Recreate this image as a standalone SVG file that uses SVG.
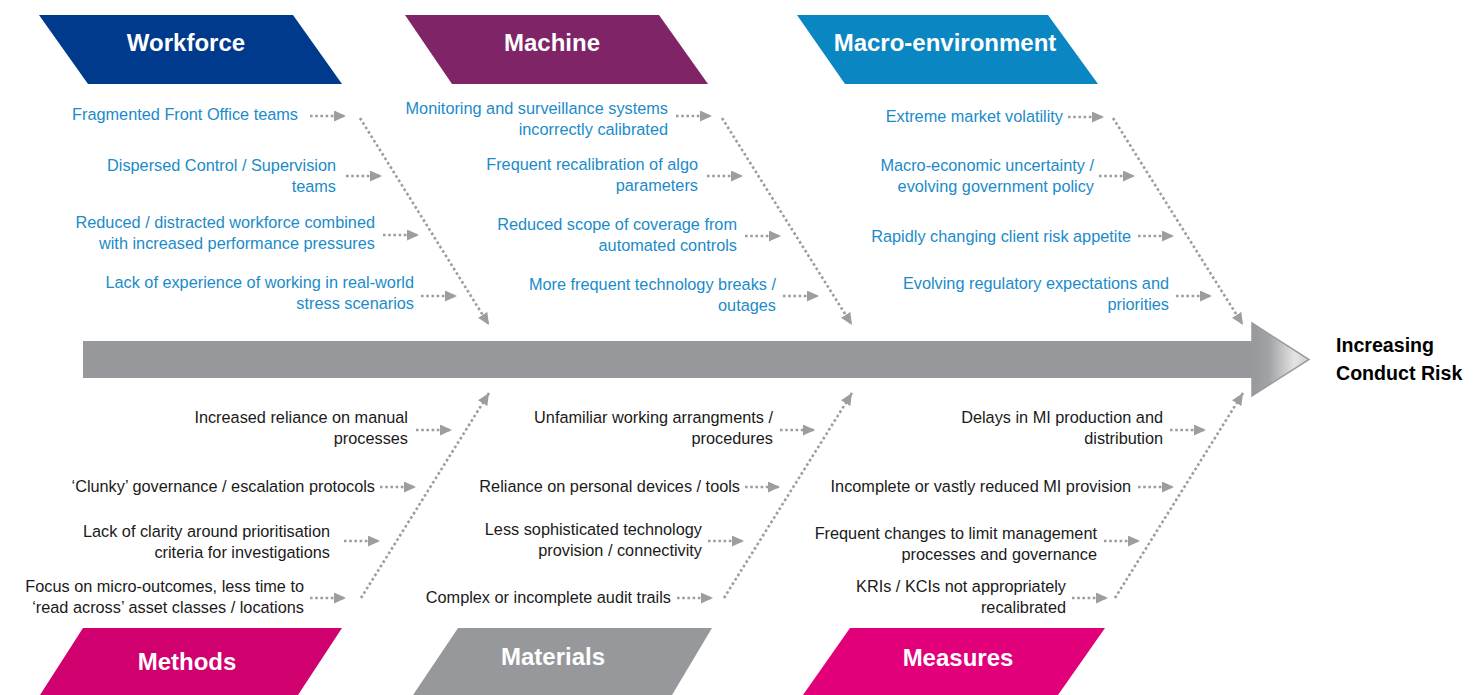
<svg xmlns="http://www.w3.org/2000/svg" width="1478" height="695" viewBox="0 0 1478 695">
<style>
  .hdr { font-family: "Liberation Sans", Arial, sans-serif; font-weight: bold; font-size: 24px; fill: #ffffff; text-anchor: middle; }
  .cb { font-family: "Liberation Sans", Arial, sans-serif; font-size: 16.3px; fill: #1B8BC9; text-anchor: end; }
  .ck { font-family: "Liberation Sans", Arial, sans-serif; font-size: 16.3px; fill: #1a1a1a; text-anchor: end; }
  .res { font-family: "Liberation Sans", Arial, sans-serif; font-weight: bold; font-size: 19.6px; fill: #000000; }
  .dot { stroke: #9d9d9f; stroke-width: 2.6; stroke-dasharray: 2.6 2.6; fill: none; }
</style>
<defs>
  <marker id="ah" markerUnits="userSpaceOnUse" viewBox="0 0 12 11" markerWidth="12" markerHeight="11" refX="12" refY="5.5" orient="auto">
    <path d="M0,0 L12,5.5 L0,11 z" fill="#9d9d9f"/>
  </marker>
  <linearGradient id="headGrad" x1="1252" y1="0" x2="1309" y2="0" gradientUnits="userSpaceOnUse">
    <stop offset="0" stop-color="#97989b"/>
    <stop offset="0.3" stop-color="#a2a3a6"/>
    <stop offset="0.75" stop-color="#e4e4e5"/>
    <stop offset="1" stop-color="#cfcfd1"/>
  </linearGradient>
</defs>

<rect width="1478" height="695" fill="#ffffff"/>

<!-- main spine -->
<g id="spine">
  <rect x="83" y="341" width="1172" height="37" fill="#97989b"/>
  <polygon points="1252,323 1309,359.5 1252,396" fill="url(#headGrad)" stroke="#9a9b9e" stroke-width="1.5"/>
</g>

<g id="result">
  <text class="res" x="1336" y="352">Increasing</text>
  <text class="res" x="1336" y="380">Conduct Risk</text>
</g>

<!-- headers -->
<g id="workforce">
  <polygon points="39,15 293,15 342,84 88,84" fill="#003a8c"/>
  <text class="hdr" x="186" y="51">Workforce</text>
</g>
<g id="machine">
  <polygon points="405,15 659,15 708,84 452,84" fill="#7e2467"/>
  <text class="hdr" x="552" y="51">Machine</text>
</g>
<g id="macro">
  <polygon points="797,15 1048,15 1098,84 845,84" fill="#0a86c2"/>
  <text class="hdr" x="945" y="51">Macro-environment</text>
</g>
<g id="methods">
  <polygon points="83,628 342,628 298,695 40,695" fill="#d0006f"/>
  <text class="hdr" x="187" y="670">Methods</text>
</g>
<g id="materials">
  <polygon points="458,628 712,628 672,695 413,695" fill="#97989b"/>
  <text class="hdr" x="553" y="665">Materials</text>
</g>
<g id="measures">
  <polygon points="850,628 1105,628 1058,695 803,695" fill="#e2007a"/>
  <text class="hdr" x="958" y="666">Measures</text>
</g>

<!-- cause texts -->
<g id="workforce-causes">
  <text class="cb" x="298" y="120">Fragmented Front Office teams</text>
  <text class="cb" x="336" y="171">Dispersed Control / Supervision</text>
  <text class="cb" x="336" y="192">teams</text>
  <text class="cb" x="375" y="228">Reduced / distracted workforce combined</text>
  <text class="cb" x="375" y="249">with increased performance pressures</text>
  <text class="cb" x="414" y="288">Lack of experience of working in real-world</text>
  <text class="cb" x="414" y="309">stress scenarios</text>
</g>
<g id="machine-causes">
  <text class="cb" x="668" y="114">Monitoring and surveillance systems</text>
  <text class="cb" x="668" y="135">incorrectly calibrated</text>
  <text class="cb" x="698" y="170">Frequent recalibration of algo</text>
  <text class="cb" x="698" y="191">parameters</text>
  <text class="cb" x="737" y="230">Reduced scope of coverage from</text>
  <text class="cb" x="737" y="251">automated controls</text>
  <text class="cb" x="776" y="290">More frequent technology breaks /</text>
  <text class="cb" x="776" y="311">outages</text>
</g>
<g id="macro-causes">
  <text class="cb" x="1063" y="122">Extreme market volatility</text>
  <text class="cb" x="1094" y="171">Macro-economic uncertainty /</text>
  <text class="cb" x="1094" y="192">evolving government policy</text>
  <text class="cb" x="1131" y="242">Rapidly changing client risk appetite</text>
  <text class="cb" x="1169" y="289">Evolving regulatory expectations and</text>
  <text class="cb" x="1169" y="310">priorities</text>
</g>
<g id="methods-causes">
  <text class="ck" x="408" y="423">Increased reliance on manual</text>
  <text class="ck" x="408" y="444">processes</text>
  <text class="ck" x="375" y="492">‘Clunky’ governance / escalation protocols</text>
  <text class="ck" x="330" y="537">Lack of clarity around prioritisation</text>
  <text class="ck" x="330" y="558">criteria for investigations</text>
  <text class="ck" x="304" y="592">Focus on micro-outcomes, less time to</text>
  <text class="ck" x="304" y="613">‘read across’ asset classes / locations</text>
</g>
<g id="materials-causes">
  <text class="ck" x="773" y="423">Unfamiliar working arrangments /</text>
  <text class="ck" x="773" y="444">procedures</text>
  <text class="ck" x="740" y="492">Reliance on personal devices / tools</text>
  <text class="ck" x="702" y="535">Less sophisticated technology</text>
  <text class="ck" x="702" y="556">provision / connectivity</text>
  <text class="ck" x="671" y="603">Complex or incomplete audit trails</text>
</g>
<g id="measures-causes">
  <text class="ck" x="1163" y="423">Delays in MI production and</text>
  <text class="ck" x="1163" y="444">distribution</text>
  <text class="ck" x="1131" y="492">Incomplete or vastly reduced MI provision</text>
  <text class="ck" x="1097" y="539">Frequent changes to limit management</text>
  <text class="ck" x="1097" y="560">processes and governance</text>
  <text class="ck" x="1066" y="592">KRIs / KCIs not appropriately</text>
  <text class="ck" x="1066" y="613">recalibrated</text>
</g>

<!-- connectors -->
<g id="connectors">
  <!-- workforce -->
  <line class="dot" x1="310" y1="116" x2="346" y2="116" marker-end="url(#ah)"/>
  <line class="dot" x1="346" y1="176" x2="382" y2="176" marker-end="url(#ah)"/>
  <line class="dot" x1="383" y1="235" x2="419" y2="235" marker-end="url(#ah)"/>
  <line class="dot" x1="421" y1="296" x2="457" y2="296" marker-end="url(#ah)"/>
  <line class="dot" x1="360" y1="118" x2="489" y2="325" marker-end="url(#ah)"/>
  <!-- machine -->
  <line class="dot" x1="676" y1="116" x2="712" y2="116" marker-end="url(#ah)"/>
  <line class="dot" x1="707" y1="176" x2="743" y2="176" marker-end="url(#ah)"/>
  <line class="dot" x1="745" y1="236" x2="781" y2="236" marker-end="url(#ah)"/>
  <line class="dot" x1="783" y1="296" x2="819" y2="296" marker-end="url(#ah)"/>
  <line class="dot" x1="722" y1="118" x2="852" y2="325" marker-end="url(#ah)"/>
  <!-- macro -->
  <line class="dot" x1="1068" y1="117" x2="1104" y2="117" marker-end="url(#ah)"/>
  <line class="dot" x1="1099" y1="176" x2="1135" y2="176" marker-end="url(#ah)"/>
  <line class="dot" x1="1138" y1="236" x2="1174" y2="236" marker-end="url(#ah)"/>
  <line class="dot" x1="1176" y1="296" x2="1212" y2="296" marker-end="url(#ah)"/>
  <line class="dot" x1="1113" y1="118" x2="1243" y2="325" marker-end="url(#ah)"/>
  <!-- methods -->
  <line class="dot" x1="416" y1="430" x2="452" y2="430" marker-end="url(#ah)"/>
  <line class="dot" x1="380" y1="487" x2="416" y2="487" marker-end="url(#ah)"/>
  <line class="dot" x1="344" y1="541" x2="380" y2="541" marker-end="url(#ah)"/>
  <line class="dot" x1="310" y1="598" x2="346" y2="598" marker-end="url(#ah)"/>
  <line class="dot" x1="361" y1="598" x2="489" y2="393" marker-end="url(#ah)"/>
  <!-- materials -->
  <line class="dot" x1="780" y1="430" x2="815" y2="430" marker-end="url(#ah)"/>
  <line class="dot" x1="745" y1="487" x2="780" y2="487" marker-end="url(#ah)"/>
  <line class="dot" x1="708" y1="541" x2="744" y2="541" marker-end="url(#ah)"/>
  <line class="dot" x1="677" y1="598" x2="713" y2="598" marker-end="url(#ah)"/>
  <line class="dot" x1="724" y1="598" x2="852" y2="393" marker-end="url(#ah)"/>
  <!-- measures -->
  <line class="dot" x1="1170" y1="430" x2="1206" y2="430" marker-end="url(#ah)"/>
  <line class="dot" x1="1138" y1="487" x2="1174" y2="487" marker-end="url(#ah)"/>
  <line class="dot" x1="1104" y1="541" x2="1140" y2="541" marker-end="url(#ah)"/>
  <line class="dot" x1="1072" y1="598" x2="1108" y2="598" marker-end="url(#ah)"/>
  <line class="dot" x1="1115" y1="598" x2="1243" y2="393" marker-end="url(#ah)"/>
</g>
</svg>
